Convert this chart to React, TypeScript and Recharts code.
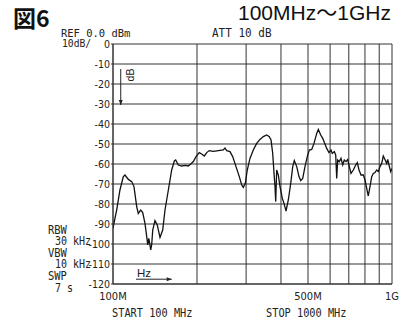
import React from 'react';
import { LineChart, Line, XAxis, YAxis, CartesianGrid, ReferenceLine } from 'recharts';

// Frequency (MHz) and level (dB)
const freqMHz = [
  100, 103.1, 105.9, 108.9, 110.4, 113.5, 116.7, 118.9, 121.6, 123.2,
  125.7, 127.8, 130.2, 132.1, 133.2, 134.3, 135.4, 136.5, 137.6, 138.8,
  141.4, 144.1, 147.4, 150.7, 153.6, 157.9, 162.3, 165.9, 167.8, 171.4,
  176.3, 181.2, 186.2, 189.9, 194.1, 198.4, 203.8, 207.9, 212.4, 216.7,
  221.4, 228.8, 238.5, 248.5, 252, 255.6, 262.6, 268.5, 276, 283.6,
  289.3, 293.1, 298, 302.9, 309.7, 318.3, 327.3, 336.4, 345.7, 355.6,
  363.3, 368.5, 373.6, 377.7, 380.8, 383, 386.1, 391.3, 396.8, 404.4,
  410.1, 417, 425, 433.5, 440.7, 446.5, 455.5, 464.2, 470.7, 478.6,
  487.7, 497, 505.3, 515.6, 525.4, 537.3, 544.4, 555.3, 564.5, 570.5,
  583.3, 594.6, 604.5, 611, 621.2, 628.4, 633.6, 638.9, 647.4, 656.5,
  665.8, 674.5, 684.1, 693.8, 703.1, 712.9, 726.6, 741.3, 751, 761.7,
  774.4, 789.2, 800.4, 811.7, 822.2, 833.9, 845.8, 857.2, 869.1, 881.4,
  893.1, 905.7, 918.5, 930.7, 943.7, 957.2, 965.2, 975.5, 989.3, 1000,
];
const levelDb = [
  -92, -83, -73, -66.3, -65.5, -67.7, -68.8, -71.3, -81.3, -84.7,
  -83, -84.3, -89.7, -96.3, -100.5, -97.2, -99.7, -103, -100.5, -93,
  -88.3, -90.5, -96.7, -93, -83, -73, -63, -58.5, -58, -60.5,
  -61, -60.7, -61, -60, -58.8, -56.3, -54.3, -55, -56, -54.3,
  -53.3, -53.7, -53.3, -53, -52, -53.3, -53.8, -56.3, -61.3, -66.3,
  -70.5, -71.7, -69.7, -63, -57.2, -53, -49.7, -47.7, -46.3, -45.5,
  -46.3, -48, -54.7, -64.7, -71.3, -78.8, -63, -65.5, -71.3, -77.2,
  -79.7, -83.5, -78, -69.7, -61.3, -58.3, -61.3, -66.3, -68.3, -67.2,
  -61.3, -56.3, -53, -52.7, -49.7, -44.7, -42.7, -45.5, -47.2, -48.8,
  -52.2, -54.3, -53, -54.7, -53.8, -55.5, -67.2, -58, -58.8, -57.2,
  -60.5, -58, -58.8, -57.7, -61.3, -64.7, -63, -60.5, -59.3, -63,
  -65.5, -65.5, -68, -72.2, -76, -71.3, -66.3, -64.7, -64.3, -63,
  -63.8, -61.3, -59.7, -56, -57.7, -59.7, -57.7, -60.5, -63.8, -62.2,
];

const xTicks = [100, 200, 300, 400, 500, 600, 700, 800, 900, 1000];
const xTickLabels: Record<number, string> = { 100: '100M', 500: '500M', 1000: '1G' };
const yTicks = [0, -10, -20, -30, -40, -50, -60, -70, -80, -90, -100, -110, -120];

// annotation arrows (data coordinates)
const dbArrow = [{ x: 106.6, y: -12.5 }, { x: 106.6, y: -30.5 }];
const hzArrow = [{ x: 120.9, y: -117.6 }, { x: 162.4, y: -117.6 }];

const data = freqMHz.map((f, i) => ({ f, v: levelDb[i] }));

const INK = '#222';
const GRID = '#333';
const narrow = "'Liberation Sans Narrow', 'DejaVu Sans Condensed', 'Liberation Sans', sans-serif";
const mono = "'DejaVu Sans Mono', 'Liberation Mono', monospace";

const ArrowShape = (props: any) => {
  const { x1, y1, x2, y2 } = props;
  const dx = x2 - x1;
  const dy = y2 - y1;
  const len = Math.hypot(dx, dy) || 1;
  const ux = dx / len;
  const uy = dy / len;
  const L = 5;
  const W = 2;
  const pts = `${x2},${y2} ${x2 - ux * L - uy * W},${y2 - uy * L + ux * W} ${x2 - ux * L + uy * W},${y2 - uy * L - ux * W}`;
  return (
    <g>
      <line x1={x1} y1={y1} x2={x2} y2={y2} stroke={INK} strokeWidth={1} />
      <polygon points={pts} fill={INK} />
    </g>
  );
};

const TallText = ({ x, y, children, size = 10.5, sy = 1.2 }: any) => (
  <text
    transform={`translate(${x},${y}) scale(1,${sy})`}
    fontFamily={mono}
    fontSize={size}
    fill={INK}
  >
    {children}
  </text>
);

export default function App() {
  return (
    <div style={{ position: 'absolute', left: 0, top: 0, width: 412, height: 320, background: '#fff' }}>
      <LineChart width={412} height={320} data={data} margin={{ top: 44, right: 20, bottom: 16, left: 0 }}>
        <CartesianGrid stroke={GRID} strokeWidth={1} horizontalValues={yTicks} verticalValues={xTicks} />
        <XAxis
          dataKey="f"
          type="number"
          scale="log"
          domain={[100, 1000]}
          allowDataOverflow
          ticks={xTicks}
          interval={0}
          tickFormatter={(v: number) => xTickLabels[v] ?? ''}
          tickLine={false}
          tickMargin={2}
          height={20}
          axisLine={{ stroke: GRID }}
          tick={{ fill: INK, fontSize: 11, fontFamily: narrow }}
        />
        <YAxis
          type="number"
          domain={[-120, 0]}
          ticks={yTicks}
          interval={0}
          width={113}
          tickSize={2}
          tickMargin={1}
          tickLine={{ stroke: GRID }}
          axisLine={{ stroke: GRID }}
          tick={{ fill: INK, fontSize: 10.5, fontFamily: narrow }}
        />
        <ReferenceLine segment={dbArrow} shape={ArrowShape} />
        <ReferenceLine segment={hzArrow} shape={ArrowShape} />
        <Line
          type="linear"
          dataKey="v"
          stroke="#111"
          strokeWidth={1.3}
          dot={false}
          isAnimationActive={false}
        />
      </LineChart>
      <svg width={412} height={320} style={{ position: 'absolute', left: 0, top: 0, pointerEvents: 'none' }}>
        <text x={13} y={27} fontFamily="'Noto Sans CJK JP', sans-serif" fontWeight="bold" fontSize={23} fill="#111">図6</text>
        <text x={238} y={20} fontFamily="'Liberation Sans', 'Noto Sans CJK JP', sans-serif" fontSize={21} fill="#111">100MHz〜1GHz</text>
        <TallText x={61} y={37} size={10.5} sy={1.05}>REF 0.0 dBm</TallText>
        <TallText x={62} y={47} size={9.7} sy={1.05}>10dB/</TallText>
        <TallText x={212} y={37} size={11} sy={1.05}>ATT 10 dB</TallText>
        <TallText x={48} y={234}>RBW</TallText>
        <TallText x={55} y={245} size={10}>30 kHz</TallText>
        <TallText x={48} y={257}>VBW</TallText>
        <TallText x={55} y={268} size={10}>10 kHz</TallText>
        <TallText x={48} y={280}>SWP</TallText>
        <TallText x={55} y={292} size={10}>7 s</TallText>
        <TallText x={112} y={317} size={10.3} sy={1.15}>START 100 MHz</TallText>
        <TallText x={266} y={317} size={10.3} sy={1.15}>STOP 1000 MHz</TallText>
        <text x={137} y={277} fontFamily="'Liberation Sans', sans-serif" fontSize={11.5} fill={INK}>Hz</text>
        <text transform="translate(133.5,75) rotate(-90)" textAnchor="middle" fontFamily="'Liberation Sans', sans-serif" fontSize={10.5} fill={INK}>dB</text>
      </svg>
    </div>
  );
}
